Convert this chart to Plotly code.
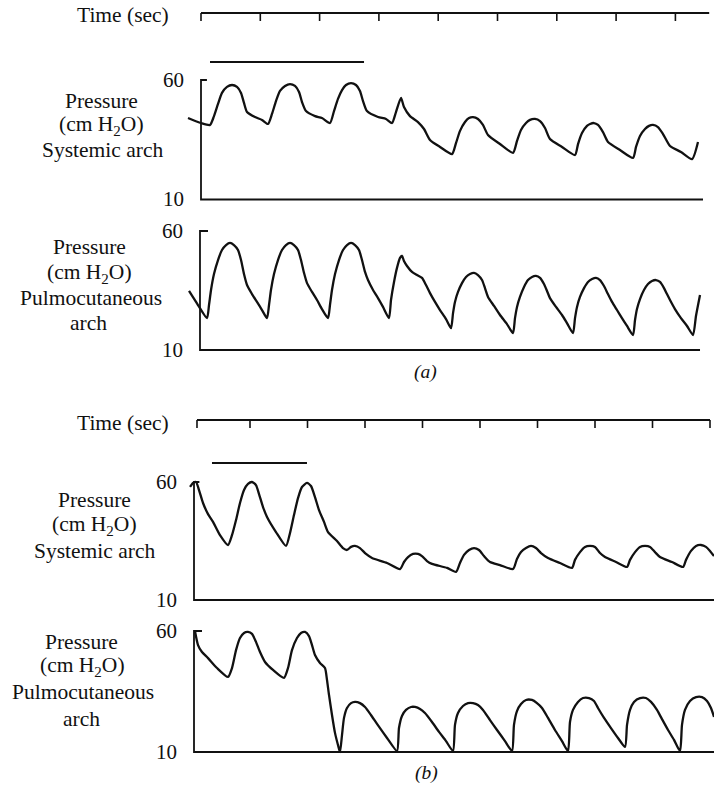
import plotly.graph_objects as go

W, H = 714, 786

# ---------------- data: panel (a) ----------------
a_time_ticks = [0, 1, 2, 3, 4, 5, 6, 7, 8]          # seconds
a_time_end = 8.57
a_stim = [0.152, 2.749]                              # stimulation bar (s)

a_sys_t = [-0.219, 0.0, 0.152, 0.219, 0.287, 0.354, 0.438, 0.523, 0.607, 0.675, 0.725, 0.776,
           0.911, 1.029, 1.130, 1.197, 1.265, 1.332, 1.417, 1.501, 1.585, 1.653, 1.703, 1.771,
           1.923, 2.040, 2.175, 2.243, 2.310, 2.378, 2.445, 2.530, 2.614, 2.681, 2.732, 2.799,
           2.985, 3.120, 3.221, 3.288, 3.373, 3.423, 3.524, 3.659, 3.761, 3.862, 4.030, 4.233,
           4.300, 4.368, 4.452, 4.519, 4.587, 4.671, 4.755, 4.840, 5.042, 5.261, 5.329, 5.396,
           5.481, 5.548, 5.632, 5.717, 5.801, 5.885, 6.088, 6.307, 6.358, 6.425, 6.509, 6.560,
           6.627, 6.695, 6.779, 6.863, 7.066, 7.285, 7.336, 7.403, 7.487, 7.555, 7.622, 7.706,
           7.791, 7.909, 8.094, 8.280, 8.381]
a_sys_p = [44.1, 42.0, 41.2, 44.9, 50.0, 54.6, 57.1, 57.9, 57.1, 54.6, 50.4, 46.6,
           44.5, 43.3, 41.6, 45.8, 51.2, 55.4, 57.5, 58.3, 57.5, 55.0, 50.8, 47.0,
           44.9, 44.1, 42.0, 47.0, 52.1, 55.8, 57.9, 58.7, 57.9, 55.4, 51.2, 47.0,
           44.5, 43.7, 42.0, 46.6, 52.5, 48.7, 44.9, 42.4, 39.5, 34.9, 32.0, 29.0,
           33.6, 38.7, 42.4, 44.1, 44.5, 43.7, 41.2, 37.0, 33.2, 29.5, 34.5, 39.1,
           42.0, 43.3, 43.7, 42.8, 39.9, 35.3, 32.0, 28.6, 33.2, 37.8, 40.8, 41.6,
           42.0, 41.2, 38.2, 34.1, 30.7, 27.4, 32.0, 36.6, 39.5, 40.8, 41.2, 40.3,
           37.4, 32.4, 29.9, 26.9, 34.1]

a_pul_t = [-0.202, -0.051, 0.101,
           0.135, 0.169, 0.219, 0.287, 0.354, 0.422, 0.489, 0.556, 0.624, 0.675, 0.725, 0.776,
           0.860, 0.944, 1.029, 1.113,
           1.147, 1.180, 1.231, 1.298, 1.366, 1.433, 1.501, 1.568, 1.636, 1.686, 1.737, 1.788,
           1.872, 1.956, 2.040, 2.142,
           2.175, 2.209, 2.260, 2.327, 2.395, 2.462, 2.530, 2.597, 2.664, 2.715, 2.766, 2.816,
           2.901, 2.985, 3.069, 3.170,
           3.204, 3.255, 3.305, 3.356, 3.390, 3.423, 3.474, 3.558, 3.642, 3.727, 3.794, 3.862,
           3.946, 4.030, 4.132, 4.216,
           4.250, 4.283, 4.334, 4.401, 4.469, 4.536, 4.604, 4.671, 4.739, 4.789, 4.840, 4.941,
           5.042, 5.160, 5.261,
           5.295, 5.329, 5.379, 5.447, 5.514, 5.582, 5.649, 5.717, 5.784, 5.835, 5.885, 5.987,
           6.088, 6.172, 6.273,
           6.307, 6.341, 6.391, 6.459, 6.526, 6.594, 6.661, 6.728, 6.796, 6.863, 6.931, 7.015,
           7.099, 7.184, 7.285,
           7.319, 7.352, 7.403, 7.470, 7.538, 7.605, 7.673, 7.740, 7.808, 7.858, 7.909, 7.993,
           8.094, 8.196, 8.297, 8.347, 8.415]
a_pul_p = [34.8, 28.9, 23.4,
           28.9, 35.2, 41.9, 47.8, 52.0, 54.1, 55.0, 54.1, 52.0, 47.8, 41.9, 37.3,
           33.5, 30.2, 26.8, 23.4,
           28.9, 35.2, 41.9, 47.8, 52.0, 54.1, 55.0, 54.1, 52.0, 47.8, 42.4, 38.1,
           34.4, 31.0, 27.2, 23.4,
           28.9, 35.2, 41.9, 47.8, 52.0, 54.1, 55.0, 54.1, 52.0, 47.8, 42.8, 39.4,
           35.2, 31.8, 28.1, 23.4,
           31.0, 38.6, 44.5, 48.7, 49.5, 47.4, 45.3, 42.8, 41.5, 40.3, 37.3, 33.9,
           30.2, 26.8, 23.0, 19.2,
           25.5, 30.2, 34.4, 38.1, 40.7, 41.9, 42.4, 41.5, 39.4, 36.0, 32.3, 28.5,
           24.7, 20.9, 17.1,
           23.4, 28.1, 32.3, 36.5, 39.4, 40.7, 41.1, 40.3, 37.7, 34.8, 31.8, 28.1,
           24.7, 21.3, 17.1,
           23.4, 28.1, 32.3, 36.0, 38.6, 39.8, 40.3, 39.4, 36.9, 33.5, 30.2, 26.8,
           23.4, 20.1, 16.3,
           22.6, 27.2, 31.4, 35.2, 37.7, 39.0, 39.4, 38.6, 36.0, 33.5, 31.0, 27.2,
           23.4, 20.1, 16.3, 24.3, 33.1]

# ---------------- data: panel (b) ----------------
b_time_ticks = [1, 2, 3, 4, 5, 6, 7, 8, 9]
b_time_start = 0.078
b_stim = [0.339, 1.991]

b_sys_t = [-0.043, 0.009, 0.061, 0.113, 0.183, 0.270, 0.357, 0.478, 0.617, 0.687, 0.757, 0.826,
           0.896, 0.965, 1.035, 1.104, 1.157, 1.226, 1.296, 1.452, 1.626, 1.696, 1.765, 1.835,
           1.904, 1.991, 2.061, 2.130, 2.200, 2.287, 2.357, 2.513, 2.617, 2.687, 2.757, 2.826,
           2.913, 3.017, 3.122, 3.383, 3.609, 3.678, 3.748, 3.835, 3.922, 3.991, 4.078, 4.165,
           4.426, 4.583, 4.652, 4.722, 4.809, 4.896, 4.983, 5.070, 5.174, 5.348, 5.574, 5.643,
           5.713, 5.800, 5.887, 5.974, 6.061, 6.183, 6.391, 6.600, 6.652, 6.739, 6.826, 6.913,
           7.000, 7.087, 7.174, 7.365, 7.557, 7.609, 7.696, 7.783, 7.870, 7.957, 8.043, 8.130,
           8.339, 8.530, 8.583, 8.670, 8.757, 8.843, 8.930, 9.000, 9.070]
b_sys_p = [57.9, 59.6, 60.0, 56.6, 51.1, 46.4, 43.1, 37.5, 33.3, 37.5, 43.9, 51.1,
           56.6, 59.2, 60.0, 58.7, 54.9, 49.4, 45.2, 38.8, 32.9, 38.4, 46.0, 53.2,
           57.9, 59.6, 58.3, 53.6, 48.1, 43.1, 38.8, 35.0, 32.0, 31.2, 32.5, 32.9,
           32.0, 29.5, 27.8, 25.7, 23.1, 26.1, 28.2, 29.5, 29.5, 28.6, 26.5, 25.3,
           23.6, 21.9, 25.7, 29.1, 31.2, 32.0, 31.2, 28.6, 26.1, 24.8, 23.1, 27.4,
           30.3, 32.0, 32.9, 32.0, 29.9, 27.8, 25.7, 23.6, 27.0, 30.3, 32.5, 32.9,
           32.5, 29.9, 28.2, 26.1, 24.0, 27.0, 30.3, 32.5, 32.9, 32.5, 30.3, 28.2,
           26.1, 24.0, 27.0, 30.8, 32.9, 33.3, 32.5, 30.8, 28.6]

b_pul_t = [0.043, 0.096, 0.165, 0.270, 0.426, 0.617,
           0.687, 0.757, 0.826, 0.896, 0.965, 1.035, 1.104, 1.174, 1.261, 1.400, 1.591,
           1.661, 1.730, 1.817, 1.887, 1.957, 2.026, 2.078, 2.130, 2.217, 2.304,
           2.339, 2.374, 2.426, 2.478, 2.530, 2.565,
           2.600, 2.635, 2.687, 2.757, 2.826, 2.913, 3.000, 3.104, 3.209, 3.383, 3.557,
           3.591, 3.643, 3.713, 3.800, 3.870, 3.957, 4.043, 4.165, 4.287, 4.409, 4.530,
           4.565, 4.617, 4.704, 4.791, 4.878, 4.965, 5.052, 5.174, 5.296, 5.435, 5.557,
           5.591, 5.643, 5.713, 5.800, 5.904, 5.991, 6.078, 6.183, 6.304, 6.426, 6.530,
           6.565, 6.617, 6.704, 6.791, 6.896, 6.983, 7.052, 7.157, 7.278, 7.400, 7.522,
           7.557, 7.609, 7.678, 7.783, 7.887, 7.974, 8.078, 8.165, 8.270, 8.374, 8.478,
           8.513, 8.565, 8.652, 8.757, 8.861, 8.948, 9.017, 9.070]
b_pul_p = [60.0, 54.2, 51.3, 48.8, 44.7, 41.0,
           44.7, 52.1, 57.1, 59.2, 59.6, 58.8, 55.5, 51.3, 47.2, 43.9, 40.6,
           44.7, 52.1, 57.1, 59.2, 59.6, 57.9, 54.2, 50.1, 46.8, 44.7,
           39.8, 33.6, 25.3, 17.9, 12.9, 10.0,
           17.0, 24.1, 28.2, 30.2, 30.7, 30.2, 28.6, 25.3, 21.6, 15.8, 10.4,
           19.9, 24.9, 27.4, 28.6, 28.6, 27.8, 26.1, 22.4, 18.3, 14.5, 10.4,
           21.2, 26.1, 29.0, 30.2, 30.2, 29.4, 27.4, 23.2, 19.1, 14.5, 10.4,
           21.2, 26.9, 29.8, 31.5, 31.5, 30.2, 28.2, 24.1, 19.1, 14.5, 10.4,
           22.4, 27.4, 30.7, 32.3, 32.3, 31.1, 28.2, 24.1, 19.9, 15.8, 12.1,
           21.2, 27.4, 30.7, 32.3, 32.3, 30.7, 27.4, 23.6, 19.1, 15.0, 10.4,
           21.2, 27.4, 31.1, 32.7, 32.7, 31.1, 28.2, 24.5]

y_ticks = [10, 60]      # cm H2O

# ---------------- layout helpers ----------------
INK = "#111111"
SERIF = "Liberation Serif, Times New Roman, serif"
FS = 21.5

def py2paper(py):
    return 1 - py / H

def ydom(py60, py10, lo=5, hi=65):
    k = (py10 - py60) / 50.0
    return [py2paper(py60 + (60 - lo) * k), py2paper(py60 + (60 - hi) * k)]

fig = go.Figure()

# pressure traces
traces = [
    (a_sys_t, a_sys_p, "x", "y"),
    (a_pul_t, a_pul_p, "x", "y2"),
    (b_sys_t, b_sys_p, "x2", "y3"),
    (b_pul_t, b_pul_p, "x2", "y4"),
]
for t, p, xa, ya in traces:
    fig.add_trace(go.Scatter(x=t, y=p, xaxis=xa, yaxis=ya, mode="lines",
                             line=dict(color=INK, width=2.3, shape="spline", smoothing=0.6),
                             hoverinfo="skip"))

# axis frames ([ shaped left axis + bottom line)
frames = [
    ("x", "y", 0.0, 0.10, 8.466),
    ("x", "y2", -0.017, 0.118, 8.415),
    ("x2", "y3", 0.026, 0.12, 9.10),
    ("x2", "y4", 0.026, 0.165, 9.10),
]
for xa, ya, t0, stub, tend in frames:
    fig.add_trace(go.Scatter(x=[stub, t0, t0, tend],
                             y=[y_ticks[1], y_ticks[1], y_ticks[0], y_ticks[0]],
                             xaxis=xa, yaxis=ya, mode="lines",
                             line=dict(color=INK, width=1.8), hoverinfo="skip"))
    for v in y_ticks:
        fig.add_annotation(x=t0, y=v, xref=xa, yref=ya, text=str(v), showarrow=False,
                           xanchor="right", yanchor="middle", xshift=-15,
                           font=dict(family=SERIF, size=FS - 0.5, color=INK))

# time axes + stimulus bars
def time_axis(xref, start, end, ticks, py_line, tick_len=8):
    fig.add_shape(type="line", xref=xref, yref="paper", x0=start, x1=end,
                  y0=py2paper(py_line), y1=py2paper(py_line),
                  line=dict(color=INK, width=1.8))
    for tk in ticks:
        fig.add_shape(type="line", xref=xref, yref="paper", x0=tk, x1=tk,
                      y0=py2paper(py_line), y1=py2paper(py_line + tick_len),
                      line=dict(color=INK, width=1.6))

time_axis("x", a_time_ticks[0], a_time_end, a_time_ticks, 13)
time_axis("x2", b_time_start, b_time_ticks[-1], [b_time_start] + b_time_ticks, 420)

for xref, (s0, s1), py in [("x", a_stim, 62), ("x2", b_stim, 463)]:
    fig.add_shape(type="line", xref=xref, yref="paper", x0=s0, x1=s1,
                  y0=py2paper(py), y1=py2paper(py), line=dict(color=INK, width=2))

# text labels
def label(text, px, py, size=FS, italic=False):
    fig.add_annotation(x=px / W, y=py2paper(py), xref="paper", yref="paper",
                       text=text, showarrow=False, xanchor="center", yanchor="middle",
                       font=dict(family=SERIF, size=size, color=INK,
                                 style="italic" if italic else "normal"))

H2O = "(cm H<sub>2</sub>O)"
label("Time (sec)", 123, 15)
label("Pressure", 101, 101); label(H2O, 101, 126); label("Systemic arch", 102, 150)
label("Pressure", 89, 247); label(H2O, 89, 273); label("Pulmocutaneous", 91, 298); label("arch", 88, 323)
label("(a)", 425, 372, size=FS - 2, italic=True)
label("Time (sec)", 123, 423)
label("Pressure", 94, 500); label(H2O, 94, 525); label("Systemic arch", 94, 551)
label("Pressure", 81, 642); label(H2O, 82, 666); label("Pulmocutaneous", 83, 692); label("arch", 81, 719)
label("(b)", 426, 773, size=FS - 2, italic=True)

ax_off = dict(visible=False, fixedrange=True)
fig.update_layout(
    width=W, height=H, margin=dict(l=0, r=0, t=0, b=0),
    paper_bgcolor="white", plot_bgcolor="rgba(0,0,0,0)", showlegend=False,
    xaxis=dict(domain=[0, 1], range=[-201 / 59.3, 513 / 59.3], anchor="y", **ax_off),
    xaxis2=dict(domain=[0, 1], range=[1 - 250 / 57.5, 1 + 464 / 57.5], anchor="y3", **ax_off),
    yaxis=dict(domain=ydom(80, 199.5), range=[5, 65], anchor="x", **ax_off),
    yaxis2=dict(domain=ydom(231, 350), range=[5, 65], anchor="x", **ax_off),
    yaxis3=dict(domain=ydom(482, 600), range=[5, 65], anchor="x2", **ax_off),
    yaxis4=dict(domain=ydom(631, 752), range=[5, 65], anchor="x2", **ax_off),
)

fig.write_html("out.html")
